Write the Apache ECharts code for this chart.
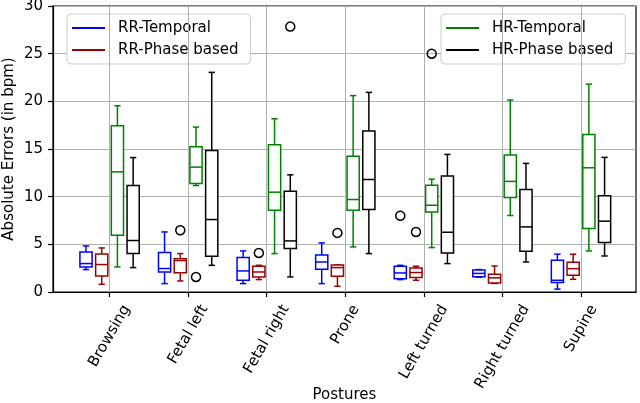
<!DOCTYPE html>
<html>
<head>
<meta charset="utf-8">
<script src="https://cdn.jsdelivr.net/npm/echarts@6/dist/echarts.min.js"></script>
<style>
  html, body { margin: 0; padding: 0; background: #fff; }
  #chart { width: 640px; height: 403px; }
</style>
</head>
<body>
<div id="chart"></div>
<script>
const postures = ['Browsing', 'Fetal left', 'Fetal right', 'Prone', 'Left turned', 'Right turned', 'Supine'];
const postureTicks = [0, 1, 2, 3, 4, 5, 6];

// each row: [whisker low, q1, median, q3, whisker high]
const rrTemporal = [
  [2.35, 2.63, 2.98, 4.2, 4.83],
  [0.88, 2.1, 2.46, 4.14, 6.3],
  [0.88, 1.23, 2.21, 3.61, 4.31],
  [0.88, 2.38, 3.15, 3.89, 5.15],
  [1.3, 1.4, 2.0, 2.7, 2.8],
  [1.55, 1.6, 1.95, 2.3, 2.35],
  [0.3, 1.0, 1.23, 3.33, 3.97],
];
const rrPhase = [
  [0.81, 1.68, 2.88, 3.99, 4.62],
  [1.16, 2.03, 3.3, 3.5, 4.03],
  [1.3, 1.58, 2.1, 2.7, 2.8],
  [0.6, 1.65, 2.56, 2.84, 2.84],
  [1.23, 1.51, 2.04, 2.52, 2.7],
  [0.9, 0.95, 1.48, 1.86, 2.73],
  [1.33, 1.75, 2.45, 3.12, 3.96],
];
const hrTemporal = [
  [2.63, 5.96, 12.6, 17.44, 19.54],
  [11.17, 11.38, 13.1, 15.23, 17.3],
  [4.03, 8.58, 10.47, 15.44, 18.17],
  [4.73, 8.58, 9.7, 14.25, 20.6],
  [4.66, 8.4, 9.1, 11.2, 11.84],
  [8.02, 9.92, 11.6, 14.36, 20.14],
  [4.31, 6.66, 13.03, 16.53, 21.8],
];
const hrPhase = [
  [2.56, 4.03, 5.4, 11.18, 14.1],
  [2.8, 3.75, 7.6, 14.85, 23.04],
  [1.58, 4.56, 5.36, 10.58, 12.29],
  [4.03, 8.65, 11.8, 16.88, 20.94],
  [2.98, 4.1, 6.27, 12.18, 14.43],
  [3.15, 4.28, 6.83, 10.76, 13.49],
  [3.78, 5.19, 7.43, 10.09, 14.12],
];

// outliers: [posture index, value]
const rrTemporalOut = [[4, 8.0]];
const rrPhaseOut = [[1, 6.48], [2, 4.1], [3, 6.2], [4, 6.3]];
const hrTemporalOut = [[1, 1.58], [4, 25.0]];
const hrPhaseOut = [[2, 27.84]];

const FONT = '"DejaVu Sans", sans-serif';
const FS = 15;
const BOX_W = 0.155;
const CAP_W = 0.08;

const groups = [
  { name: 'RR-Temporal', color: '#0000ff', offset: -0.3, stats: rrTemporal, out: rrTemporalOut },
  { name: 'RR-Phase based', color: '#9a0000', offset: -0.1, stats: rrPhase, out: rrPhaseOut },
  { name: 'HR-Temporal', color: '#008000', offset: 0.1, stats: hrTemporal, out: hrTemporalOut },
  { name: 'HR-Phase based', color: '#000000', offset: 0.3, stats: hrPhase, out: hrPhaseOut },
];

const measureCtx = document.createElement('canvas').getContext('2d');
measureCtx.font = FS + 'px ' + FONT;

function boxRenderer(offset, color) {
  return function (params, api) {
    const x = api.value(0) + offset;
    const lo = api.coord([x, api.value(1)]);
    const q1 = api.coord([x, api.value(2)]);
    const md = api.coord([x, api.value(3)]);
    const q3 = api.coord([x, api.value(4)]);
    const hi = api.coord([x, api.value(5)]);
    const bw = api.size([BOX_W, 0])[0];
    const cw = api.size([CAP_W, 0])[0];
    const cx = lo[0];
    const ls = { stroke: color, lineWidth: 1.5 };
    return {
      type: 'group',
      children: [
        { type: 'line', shape: { x1: cx, y1: q1[1], x2: cx, y2: lo[1] }, style: ls },
        { type: 'line', shape: { x1: cx, y1: q3[1], x2: cx, y2: hi[1] }, style: ls },
        { type: 'line', shape: { x1: cx - cw / 2, y1: lo[1], x2: cx + cw / 2, y2: lo[1] }, style: ls },
        { type: 'line', shape: { x1: cx - cw / 2, y1: hi[1], x2: cx + cw / 2, y2: hi[1] }, style: ls },
        { type: 'rect', shape: { x: cx - bw / 2, y: q3[1], width: bw, height: q1[1] - q3[1] },
          style: { fill: '#fff', stroke: color, lineWidth: 1.5 } },
        { type: 'line', shape: { x1: cx - bw / 2, y1: md[1], x2: cx + bw / 2, y2: md[1] }, style: ls },
      ],
    };
  };
}

function labelRenderer(params, api) {
  const pt = api.coord([api.value(0), 0]);
  const txt = postures[params.dataIndex];
  const w = measureCtx.measureText(txt).width;
  const a = Math.PI / 3;
  const h = w * Math.sin(a) + FS * 1.15 * Math.cos(a);
  return {
    type: 'text',
    x: pt[0],
    y: pt[1] + 10 + h / 2,
    rotation: a,
    style: {
      text: txt, fill: '#000', fontSize: FS, fontFamily: FONT,
      align: 'center', verticalAlign: 'middle',
    },
  };
}

const series = [];
groups.forEach(g => {
  series.push({
    name: g.name,
    type: 'custom',
    renderItem: boxRenderer(g.offset, g.color),
    itemStyle: { color: g.color },
    encode: { x: 0, y: [1, 2, 3, 4, 5] },
    data: g.stats.map((s, i) => [i].concat(s)),
    z: 3,
  });
});
groups.forEach(g => {
  series.push({
    type: 'scatter',
    symbol: 'circle',
    symbolSize: 9,
    itemStyle: { color: 'rgba(255,255,255,0)', borderColor: '#000', borderWidth: 1.5, opacity: 1 },
    data: g.out.map(o => [o[0] + g.offset, o[1]]),
    z: 4,
    silent: true,
  });
});
// posture labels + vertical grid lines
series.push({
  type: 'custom',
  renderItem: labelRenderer,
  data: postureTicks.map(i => [i, 0]),
  clip: false,
  silent: true,
  z: 1,
  markLine: {
    silent: true,
    symbol: 'none',
    label: { show: false },
    lineStyle: { color: '#b0b0b0', width: 1, type: 'solid' },
    emphasis: { disabled: true },
    data: postureTicks.map(i => ({ xAxis: i })),
  },
});

const legendBase = {
  orient: 'vertical',
  backgroundColor: '#fff',
  borderColor: '#cccccc',
  borderWidth: 1,
  borderRadius: 4,
  padding: [6, 12, 6, 5],
  itemWidth: 33,
  itemHeight: 2,
  itemGap: 6,
  icon: 'rect',
  textStyle: { fontSize: FS, fontFamily: FONT, color: '#000', lineHeight: 16, padding: [0, 0, 0, 8] },
};

const option = {
  animation: false,
  backgroundColor: '#fff',
  grid: {
    left: 53, right: 4, top: 6, bottom: 111,
    outerBoundsMode: 'none',
    containLabel: false,
    show: true, borderColor: '#000', borderWidth: 1.2, backgroundColor: 'transparent',
  },
  legend: [
    Object.assign({}, legendBase, {
      left: 67, top: 14,
      data: groups.slice(0, 2).map(g => ({ name: g.name, itemStyle: { color: g.color } })),
    }),
    Object.assign({}, legendBase, {
      left: 441, top: 14,
      data: groups.slice(2).map(g => ({ name: g.name, itemStyle: { color: g.color } })),
    }),
  ],
  xAxis: {
    type: 'value',
    min: -0.72,
    max: 6.7,
    name: 'Postures',
    nameLocation: 'middle',
    nameGap: 96,
    nameMoveOverlap: false,
    nameTextStyle: { fontSize: FS, fontFamily: FONT, color: '#000' },
    axisLine: { show: true, onZero: false, lineStyle: { color: '#000', width: 1.2 } },
    axisTick: { show: true, inside: false, length: 5, customValues: postureTicks, lineStyle: { color: '#000', width: 1.2 } },
    axisLabel: { show: false },
    splitLine: { show: false },
  },
  yAxis: {
    type: 'value',
    min: 0,
    max: 30,
    interval: 5,
    name: 'Absolute Errors (in bpm)',
    nameLocation: 'middle',
    nameGap: 36,
    nameMoveOverlap: false,
    nameTextStyle: { fontSize: FS, fontFamily: FONT, color: '#000' },
    axisLine: { show: true, onZero: false, lineStyle: { color: '#000', width: 1.2 } },
    axisTick: { show: true, inside: false, length: 5, lineStyle: { color: '#000', width: 1.2 } },
    axisLabel: { fontSize: FS, fontFamily: FONT, color: '#000', margin: 10 },
    splitLine: { show: true, lineStyle: { color: '#b0b0b0', width: 1 } },
  },
  series: series,
};

const chart = echarts.init(document.getElementById('chart'), null, { renderer: 'canvas' });
chart.setOption(option);
</script>
</body>
</html>
